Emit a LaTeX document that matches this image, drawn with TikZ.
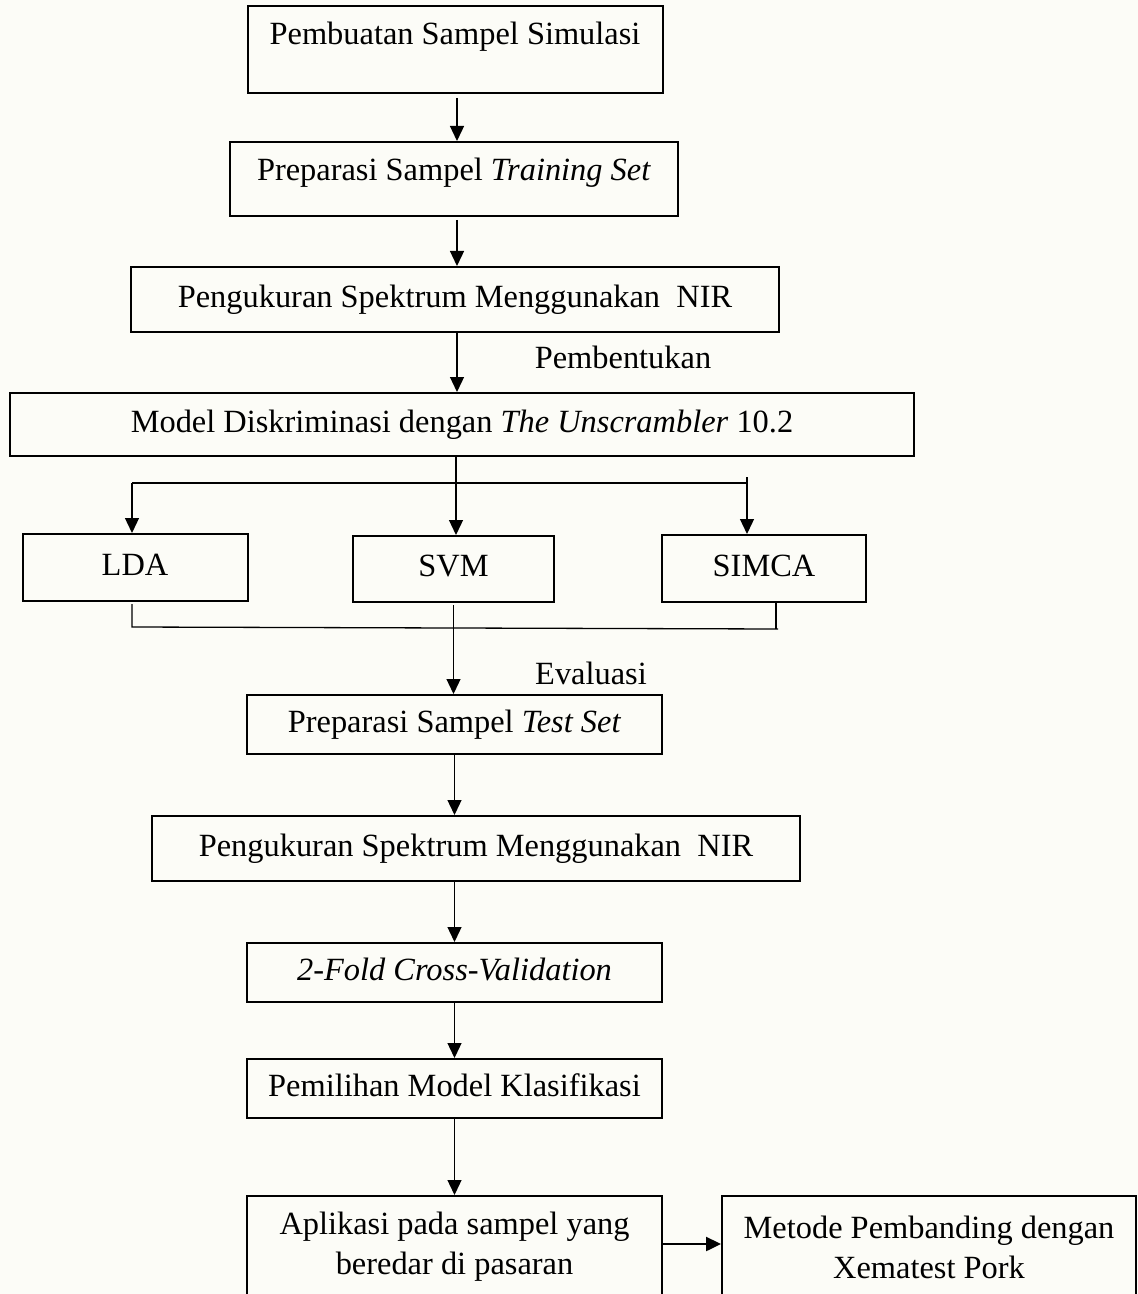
\documentclass[tikz,border=0pt]{standalone}
\usepackage{fontspec}
\setmainfont{Liberation Serif}
\usetikzlibrary{arrows.meta,calc}
\definecolor{bg}{RGB}{252,252,247}
\begin{document}
\begin{tikzpicture}[x=0.5pt,y=-0.5pt,
  txt/.style={font=\fontsize{16.2}{20}\selectfont},
  box/.style={draw,line width=1pt,inner sep=0pt,align=center,txt,text height=11.3pt,text depth=3.6pt},
  arr/.style={line width=0.65pt,-{Triangle[length=7.5pt,width=7pt]}},
  ln/.style={line width=0.65pt},
  lbl/.style={txt,inner sep=0pt}]
\fill[bg] (0,0) rectangle (1138,1294);
\useasboundingbox (0,0) rectangle (1138,1294);

% boxes
\node[box,minimum width=207.5pt,minimum height=43.5pt,text depth=16.6pt] (b1) at (455,49.5) {Pembuatan Sampel Simulasi};
\node[box,minimum width=224pt,minimum height=37pt,text depth=9.6pt] (b2) at (454,179) {Preparasi Sampel \textit{Training Set}};
\node[box,minimum width=324pt,minimum height=32.5pt] (b3) at (455,299.5) {Pengukuran Spektrum Menggunakan\ \ NIR};
\node[box,minimum width=452pt,minimum height=31.5pt] (b4) at (462,424.5) {Model Diskriminasi dengan \textit{The Unscrambler} 10.2};
\node[box,minimum width=112.5pt,minimum height=33.5pt] (lda) at (135,567.5) {LDA};
\node[box,minimum width=100.5pt,minimum height=33pt] (svm) at (453.5,569) {SVM};
\node[box,minimum width=102pt,minimum height=33.5pt] (simca) at (764,568.5) {SIMCA};
\node[box,minimum width=207.5pt,minimum height=29.5pt] (b5) at (454.5,724.5) {Preparasi Sampel \textit{Test Set}};
\node[box,minimum width=324pt,minimum height=32.5pt] (b6) at (476,848.5) {Pengukuran Spektrum Menggunakan\ \ NIR};
\node[box,minimum width=207.5pt,minimum height=29.5pt] (b7) at (454.5,972.5) {\textit{2-Fold Cross-Validation}};
\node[box,minimum width=207.5pt,minimum height=29.5pt] (b8) at (454.5,1088.5) {Pemilihan Model Klasifikasi};
\node[box,minimum width=207.5pt,minimum height=51pt,text height=,text depth=] (b9) at (454.5,1247) {Aplikasi pada sampel yang\\beredar di pasaran};
\node[box,minimum width=207pt,minimum height=51pt,text height=,text depth=] (b10) at (929,1247) {Metode Pembanding dengan\\Xematest Pork};

% labels
\node[lbl] (l1) at (623,357) {Pembentukan};
\node[lbl] (l2) at (591,673) {Evaluasi};

% connectors
\draw[arr] ([xshift=1pt,yshift=-2pt]b1.south) -- ([xshift=1pt]b1.south |- b2.north);
\draw[arr] ([xshift=1.5pt,yshift=-1.5pt]b2.south) -- ([xshift=1.5pt]b2.south |- b3.north);
\draw[arr] ([xshift=1pt]b3.south) -- ([xshift=1pt]b3.south |- b4.north);

\coordinate (j1) at (456,483);
\coordinate (jl) at (132,483);
\coordinate (jr) at (747,483);
\draw[ln] (b4.south -| j1) -- (j1);
\draw[line width=0.8pt] (jl) -- (jr) -- ++(0,-6);
\draw[arr] (jl) -- (jl |- lda.north);
\draw[arr] (j1) -- (j1 |- svm.north);
\draw[arr] (jr) -- (jr |- simca.north);

\coordinate (ml) at (132,627);
\coordinate (mr) at (778,629);
\coordinate (ms) at (776,629);
\draw[ln] ([yshift=-1pt]lda.south -| ml) -- (ml) -- (mr);
\draw[ln] (simca.south -| ms) -- (ms);
\draw[arr] ([yshift=-1pt]svm.south) -- (svm.south |- b5.north);

\draw[arr] (b5.south) -- (b5.south |- b6.north);
\draw[arr] (b7.north |- b6.south) -- (b7.north);
\draw[arr] (b7.south) -- (b7.south |- b8.north);
\draw[arr] (b8.south) -- (b8.south |- b9.north);
\draw[line width=1.2pt,-{Triangle[length=7.5pt,width=7pt]}] ([yshift=1.5pt]b9.east) -- ([yshift=1.5pt]b10.west);
\end{tikzpicture}
\end{document}
